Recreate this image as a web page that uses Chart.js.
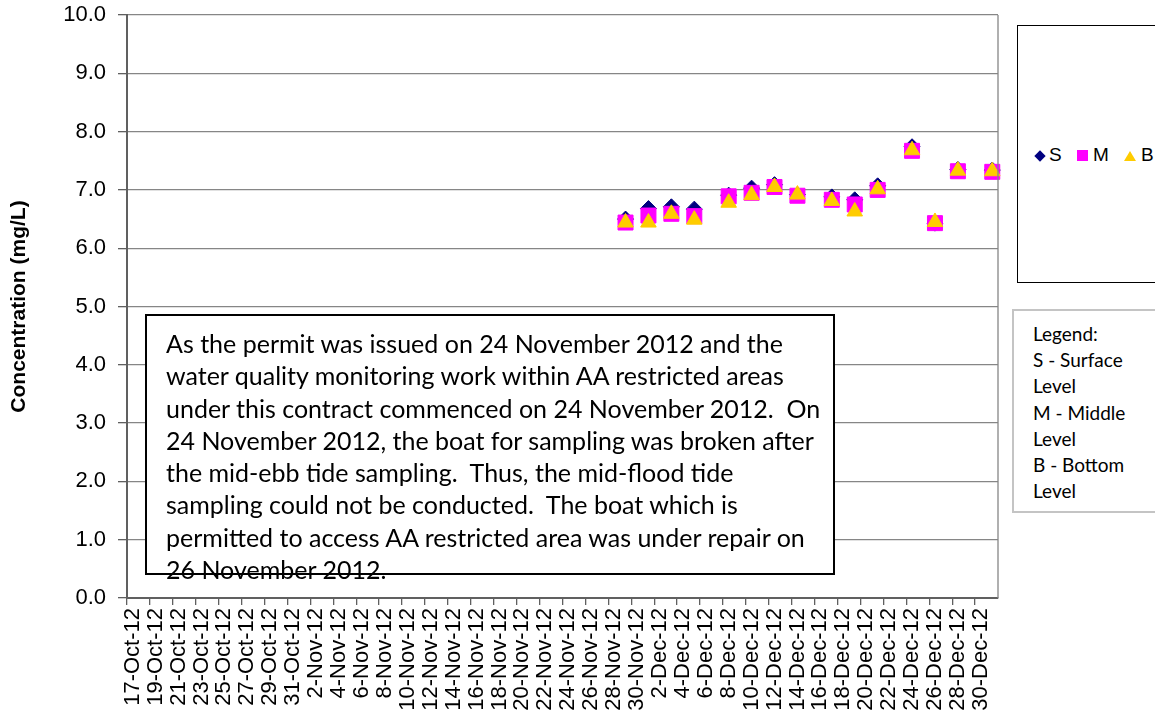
<!DOCTYPE html>
<html>
<head>
<meta charset="utf-8">
<script src="https://cdn.jsdelivr.net/npm/chart.js@4"></script>
<style>
    html, body { margin: 0; padding: 0; background: #fff; overflow: hidden; }
    #wrap { position: relative; width: 1155px; height: 723px; overflow: hidden; }
    #chart { position: absolute; left: 0; top: 0; }
    .note { position: absolute; left: 145px; top: 314px; width: 667px; height: 246px; border: 2px solid #000; background: #fff;
        font-family: Lato, "Open Sans", sans-serif; font-size: 25px; line-height: 32.3px; color: #000; white-space: pre;
        padding: 11px 0 0 19px; box-sizing: content-box; overflow: visible; }
    .legend-box { position: absolute; left: 1017px; top: 25px; width: 200px; height: 256px; border: 1px solid #000; background: #fff; }
    .leg-item { position: absolute; top: 114px; font-family: "Liberation Sans", Arial, sans-serif; font-size: 19px; line-height: 30px; color: #000; }
    .mk { position: absolute; }
    .key-box { position: absolute; left: 1012px; top: 309px; width: 200px; height: 190px; border: 2px solid #c4c4c4; background: #fff;
        font-family: Lato, "Open Sans", sans-serif; font-size: 19px; line-height: 26.2px; color: #000; padding: 10px 0 0 19px; white-space: pre; }
</style>
</head>
<body>
<div id="wrap">
    <canvas id="chart" width="1155" height="723"></canvas>
    <div class="note" id="note"></div>
    <div class="legend-box" id="legendBox"></div>
    <div class="key-box" id="keyBox"></div>
</div>
<script>
// all calendar days on the axis (17-Oct-12 .. 31-Dec-12)
const days = [
    '17-Oct-12','18-Oct-12','19-Oct-12','20-Oct-12','21-Oct-12','22-Oct-12','23-Oct-12','24-Oct-12','25-Oct-12','26-Oct-12',
    '27-Oct-12','28-Oct-12','29-Oct-12','30-Oct-12','31-Oct-12',
    '1-Nov-12','2-Nov-12','3-Nov-12','4-Nov-12','5-Nov-12','6-Nov-12','7-Nov-12','8-Nov-12','9-Nov-12','10-Nov-12',
    '11-Nov-12','12-Nov-12','13-Nov-12','14-Nov-12','15-Nov-12','16-Nov-12','17-Nov-12','18-Nov-12','19-Nov-12','20-Nov-12',
    '21-Nov-12','22-Nov-12','23-Nov-12','24-Nov-12','25-Nov-12','26-Nov-12','27-Nov-12','28-Nov-12','29-Nov-12','30-Nov-12',
    '1-Dec-12','2-Dec-12','3-Dec-12','4-Dec-12','5-Dec-12','6-Dec-12','7-Dec-12','8-Dec-12','9-Dec-12','10-Dec-12',
    '11-Dec-12','12-Dec-12','13-Dec-12','14-Dec-12','15-Dec-12','16-Dec-12','17-Dec-12','18-Dec-12','19-Dec-12','20-Dec-12',
    '21-Dec-12','22-Dec-12','23-Dec-12','24-Dec-12','25-Dec-12','26-Dec-12','27-Dec-12','28-Dec-12','29-Dec-12','30-Dec-12',
    '31-Dec-12'
];

// sampling dates
const sampleDates = ['29-Nov-12','1-Dec-12','3-Dec-12','5-Dec-12','8-Dec-12','10-Dec-12','12-Dec-12','14-Dec-12',
    '17-Dec-12','19-Dec-12','21-Dec-12','24-Dec-12','26-Dec-12','28-Dec-12','31-Dec-12'];

// DO (mg/L) by depth
const surface = [6.50, 6.68, 6.71, 6.67, 6.91, 7.03, 7.09, 6.92, 6.88, 6.83, 7.07, 7.74, 6.43, 7.35, 7.34];
const middle  = [6.44, 6.56, 6.59, 6.55, 6.89, 6.95, 7.05, 6.90, 6.83, 6.75, 7.00, 7.67, 6.43, 7.32, 7.31];
const bottom  = [6.44, 6.44, 6.59, 6.49, 6.78, 6.91, 7.05, 6.92, 6.81, 6.63, 7.01, 7.68, 6.45, 7.33, 7.32];

const seriesNames = ['S', 'M', 'B'];
const seriesColors = ['#000080', '#ff00ff', '#ffcc00'];
const keyLines = ['Legend:', 'S - Surface', 'Level', 'M - Middle', 'Level', 'B - Bottom', 'Level'];
const noteLines = [
    'As the permit was issued on 24 November 2012 and the',
    'water quality monitoring work within AA restricted areas',
    'under this contract commenced on 24 November 2012.  On',
    '24 November 2012, the boat for sampling was broken after',
    'the mid-ebb tide sampling.  Thus, the mid-flood tide',
    'sampling could not be conducted.  The boat which is',
    'permitted to access AA restricted area was under repair on',
    '26 November 2012.'
];

const pts = vals => sampleDates.map((d, i) => ({ x: d, y: vals[i] }));

const rightEdge = {
    id: 'rightEdge',
    afterDraw(chart) {
        const { ctx, chartArea: a } = chart;
        ctx.save();
        ctx.strokeStyle = '#868686';
        ctx.lineWidth = 1.3;
        ctx.beginPath();
        ctx.moveTo(a.right, a.top);
        ctx.lineTo(a.right, a.bottom);
        ctx.stroke();
        ctx.restore();
    }
};

new Chart(document.getElementById('chart').getContext('2d'), {
    type: 'line',
    data: {
        labels: days,
        datasets: [
            // order: S drawn first, B last (on top)
            { label: seriesNames[0], data: pts(surface), order: 3, showLine: false, pointStyle: 'rectRot', pointRadius: 8,
              backgroundColor: seriesColors[0], borderColor: seriesColors[0], pointBorderWidth: 1 },
            { label: seriesNames[1], data: pts(middle), order: 2, showLine: false, pointStyle: 'rect', pointRadius: 10.6,
              backgroundColor: seriesColors[1], borderColor: seriesColors[1], pointBorderWidth: 1 },
            { label: seriesNames[2], data: pts(bottom), order: 1, showLine: false, pointStyle: 'triangle', pointRadius: 9,
              backgroundColor: seriesColors[2], borderColor: seriesColors[2], pointBorderWidth: 1 }
        ]
    },
    options: {
        responsive: false,
        animation: false,
        events: [],
        layout: { padding: { top: 15, right: 157, left: 0, bottom: 0 } },
        plugins: { legend: { display: false }, tooltip: { enabled: false } },
        scales: {
            x: {
                type: 'category',
                offset: true,
                afterFit: s => { s.height = 125; s.paddingLeft = 0; s.paddingRight = 0; },
                grid: {
                    offset: true,
                    drawOnChartArea: false,
                    tickLength: 7,
                    tickColor: c => (c.index % 2 === 0 ? '#606060' : 'rgba(0,0,0,0)'),
                    lineWidth: 1.3
                },
                border: { color: '#606060', width: 2 },
                ticks: {
                    autoSkip: false,
                    maxRotation: 90,
                    minRotation: 90,
                    padding: 3,
                    color: '#000',
                    font: { family: '"Liberation Sans", Arial, sans-serif', size: 22 },
                    callback: function (v, i) { return i % 2 === 0 ? this.getLabelForValue(v) : ''; }
                }
            },
            y: {
                min: 0,
                max: 10,
                afterFit: s => { s.width = 127; s.paddingTop = 0; s.paddingBottom = 0; },
                grid: { color: '#868686', lineWidth: 1.3, tickLength: 9, tickColor: '#606060' },
                border: { color: '#606060', width: 2 },
                ticks: {
                    stepSize: 1,
                    padding: 12,
                    color: '#000',
                    font: { family: '"Liberation Sans", Arial, sans-serif', size: 22 },
                    callback: v => v.toFixed(1)
                },
                title: {
                    display: true,
                    text: 'Concentration (mg/L)',
                    color: '#000',
                    padding: { top: 7, bottom: 0 },
                    font: { family: '"Liberation Sans", Arial, sans-serif', size: 21, weight: 'bold' }
                }
            }
        }
    },
    plugins: [rightEdge]
});

// text box note
document.getElementById('note').textContent = noteLines.join('\n');

// key box
document.getElementById('keyBox').textContent = keyLines.join('\n');

// series legend
const legendBox = document.getElementById('legendBox');
const markerHtml = [
    '<span class="mk" style="left:18px;top:126px;width:8px;height:8px;background:' + seriesColors[0] + ';transform:rotate(45deg)"></span>',
    '<span class="mk" style="left:59px;top:124px;width:11px;height:11px;background:' + seriesColors[1] + '"></span>',
    '<span class="mk" style="left:106px;top:125px;width:0;height:0;border-left:6px solid transparent;border-right:6px solid transparent;border-bottom:10px solid ' + seriesColors[2] + '"></span>'
];
const textLeft = [31, 75, 123];
seriesNames.forEach((n, i) => {
    legendBox.insertAdjacentHTML('beforeend', markerHtml[i]);
    legendBox.insertAdjacentHTML('beforeend', '<span class="leg-item" style="left:' + textLeft[i] + 'px">' + n + '</span>');
});
</script>
</body>
</html>
